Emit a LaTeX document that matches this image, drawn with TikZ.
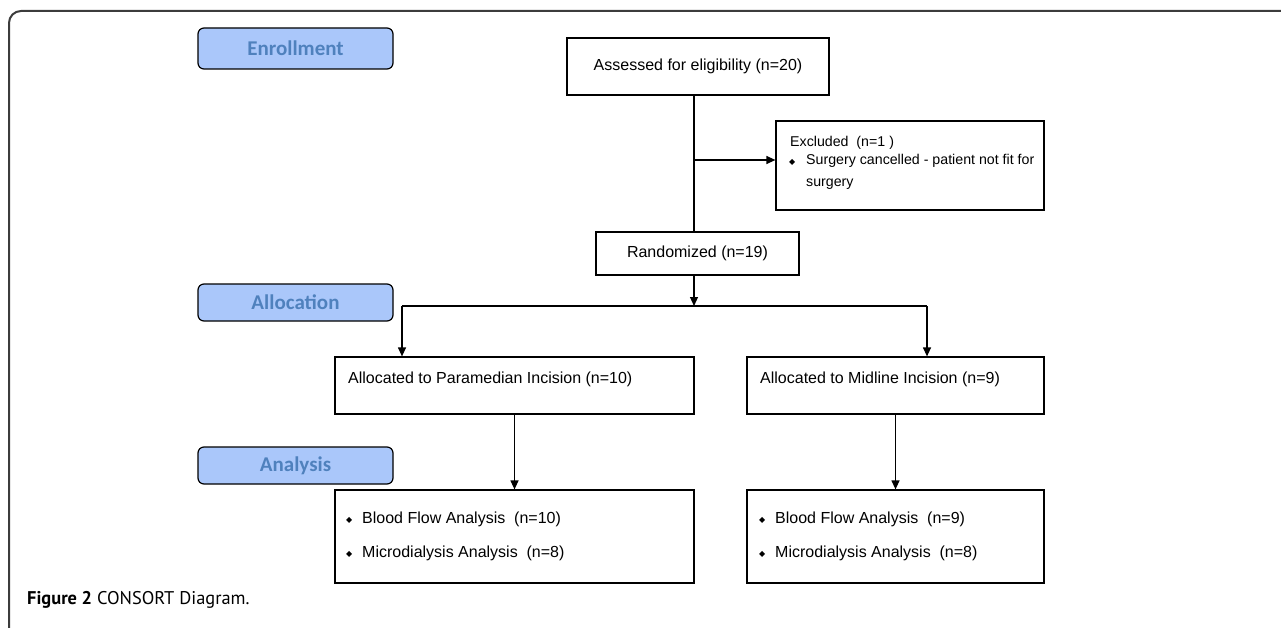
\documentclass[tikz,border=0pt]{standalone}
\usepackage{fontspec}
\setmainfont{Liberation Sans}
\newfontfamily\hdrfont{Carlito}
\newfontfamily\capfont{PT Sans}
\newfontfamily\dejavu{DejaVu Sans}
\usetikzlibrary{arrows.meta,calc}
\definecolor{hdrfill}{RGB}{170,199,250}
\definecolor{hdrtext}{RGB}{79,129,189}
\definecolor{framecol}{RGB}{60,60,60}
\newcommand{\dmd}{{\dejavu\fontsize{8}{8}\selectfont ◆}}
\tikzset{
  box/.style={draw=black, line width=1.2pt, fill=white, inner sep=0pt, font=\fontsize{16}{19}\selectfont},
  hdr/.style={draw=black, line width=1.2pt, fill=hdrfill, rounded corners=6pt, minimum width=195pt, minimum height=39pt, inner sep=0pt, text=hdrtext, font=\hdrfont\bfseries\fontsize{21}{24}\selectfont},
  conn/.style={line width=1.2pt},
  arr/.style={line width=1.2pt, -{Triangle[length=9pt,width=8pt]}},
  txt/.style={anchor=west, inner sep=0pt, font=\fontsize{16}{19}\selectfont},
  stxt/.style={anchor=west, inner sep=0pt, font=\fontsize{14.2}{17}\selectfont}
}
\begin{document}
\begin{tikzpicture}[x=1pt,y=-1pt]
\useasboundingbox (0,0) rectangle (1281,628);
% frame
\draw[framecol, line width=2pt, rounded corners=12pt] (9,640) -- (9,11) -- (1290,11);
% header boxes
\node[hdr, minimum height=41pt] (enr) at (295.5,48.5) {Enrollment};
\node[hdr, minimum height=37pt] (alloc) at (295.5,302.5) {Allocation};
\node[hdr, minimum height=37pt] (anal) at (295.5,465.5) {Analysis};
% boxes
\node[box, minimum width=262pt, minimum height=57pt] (assess) at (698,66.5) {Assessed for eligibility (n=20)};
\node[box, minimum width=268pt, minimum height=89pt] (excl) at (910,165.5) {};
\node[stxt] (excltxt) at (790,143) {Excluded\ \ (n=1 )};
\node[stxt] (exclb) at (789,162) {\dmd};
\node[stxt] (excl1) at (806,161) {Surgery cancelled - patient not fit for};
\node[stxt] (excl2) at (806,184) {surgery};
\node[box, minimum width=203pt, minimum height=43pt] (rand) at (697.5,253.5) {Randomized (n=19)};
\node[box, minimum width=359pt, minimum height=57pt] (para) at (514.5,385.5) {};
\node[txt] (paratxt) at (348,379) {Allocated to Paramedian Incision (n=10)};
\node[box, minimum width=297pt, minimum height=57pt] (mid) at (895.5,385.5) {};
\node[txt] (midtxt) at (760,379) {Allocated to Midline Incision (n=9)};
\node[box, minimum width=359pt, minimum height=93pt] (anl) at (514.5,536.5) {};
\node[txt] (anlb1) at (346,520) {\dmd};
\node[txt] (anl1) at (362,519) {Blood Flow Analysis\ \ (n=10)};
\node[txt] (anlb2) at (346,554) {\dmd};
\node[txt] (anl2) at (362,553) {Microdialysis Analysis\ \ (n=8)};
\node[box, minimum width=297pt, minimum height=93pt] (anr) at (895.5,536.5) {};
\node[txt] (anrb1) at (759,520) {\dmd};
\node[txt] (anr1) at (775,519) {Blood Flow Analysis\ \ (n=9)};
\node[txt] (anrb2) at (759,554) {\dmd};
\node[txt] (anr2) at (775,553) {Microdialysis Analysis\ \ (n=8)};
% connectors
\coordinate (br) at (694,160);
\coordinate (split) at (694,306);
\coordinate (L) at (402,306);
\coordinate (R) at (927,306);
\draw[conn] (694,95) -- (694,232);
\draw[arr] (br) -- (br -| excl.west);
\draw[arr] (694,275) -- (split);
\draw[conn] (L) -- (R);
\draw[arr] (L) -- (L |- para.north);
\draw[arr] (R) -- (R |- mid.north);
\draw[arr] (para.south) -- (anl.north);
\draw[arr] (mid.south) -- (anr.north);
% caption
\node[anchor=west, inner sep=0pt, font=\capfont\fontsize{18.4}{21}\selectfont] (cap) at (27,600) {\textbf{Figure 2} CONSORT Diagram.};
\end{tikzpicture}
\end{document}
